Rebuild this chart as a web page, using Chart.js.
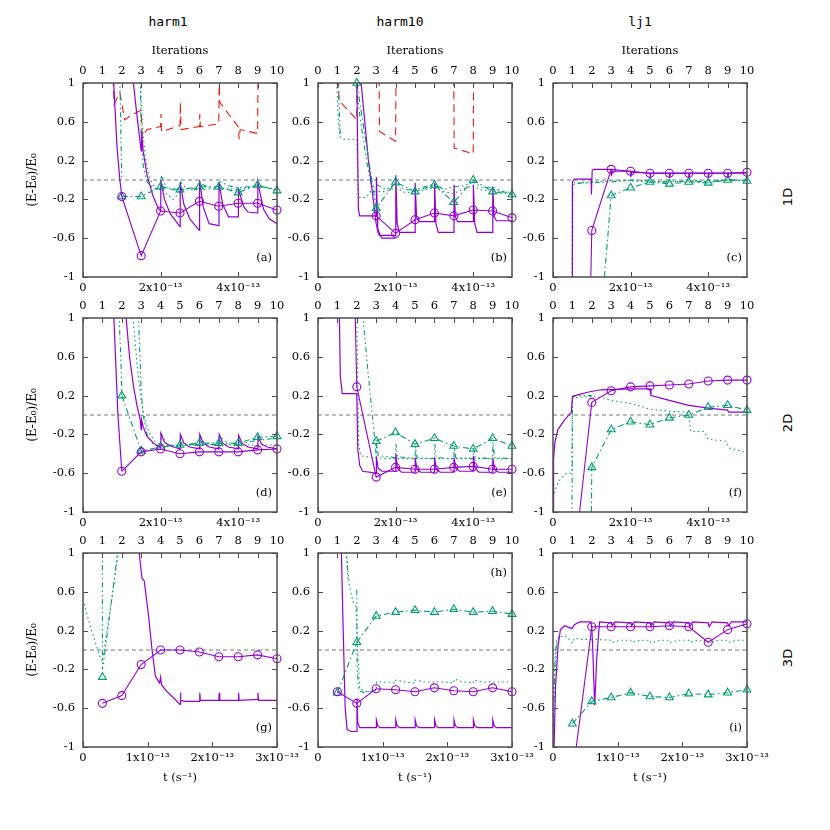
<!DOCTYPE html>
<html lang="en">
<head>
<meta charset="UTF-8">
<title>(E-E0)/E0 vs iterations</title>
<script src="https://cdn.jsdelivr.net/npm/chart.js@4"></script>
<style>
    body { margin: 0; background: #fff; }
    #fig { position: relative; width: 830px; height: 830px; background: #fff; overflow: hidden; }
    #fig canvas { position: absolute; }
    .coltitle {
        position: absolute; top: 14px;
        font-family: 'DejaVu Sans Mono', monospace; font-size: 13px;
        transform: translateX(-50%);
    }
    .rowtitle {
        position: absolute; left: 787px;
        font-family: 'DejaVu Sans', sans-serif; font-size: 13px;
        transform: translate(-50%, -50%) rotate(-90deg);
    }
</style>
</head>
<body>
<div id="fig">
    <div class="coltitle" style="left:168px">harm1</div>
    <div class="coltitle" style="left:400px">harm10</div>
    <div class="coltitle" style="left:640px">lj1</div>
    <div class="rowtitle" style="top:197px">1D</div>
    <div class="rowtitle" style="top:423px">2D</div>
    <div class="rowtitle" style="top:658px">3D</div>
</div>
<script>
// ticks
const iterTicks = [0, 1, 2, 3, 4, 5, 6, 7, 8, 9, 10];
const yTicks = [-1, -0.6, -0.2, 0.2, 0.6, 1];
const timeTicks12 = [0, 2e-13, 4e-13];   // rows 1D and 2D, 0..5e-13
const timeTicks3 = [0, 1e-13, 2e-13, 3e-13]; // row 3D, 0..3e-13
const zeroLine = [[0, 0], [10, 0]];

// series: [iteration, (E-E0)/E0]

// (a) harm1 1D
const aPurple = [[1.57,1.05],[1.75,0.35],[1.9,0.0],[2.0,-0.17],[2.0,null],[2.57,1.05],[2.75,0.72],[2.95,0.38],[3.0,0.3],[3.02,0.5],[3.1,0.3],[3.3,0.05],[3.6,-0.16],[3.85,-0.28],[4.0,-0.32],[4.01,0.0],[4.2,-0.2],[4.5,-0.35],[5.0,-0.48],[5.01,-0.03],[5.2,-0.25],[5.5,-0.4],[6.0,-0.52],[6.01,0.0],[6.2,-0.28],[6.5,-0.45],[7.0,-0.47],[7.01,-0.02],[7.2,-0.25],[7.5,-0.38],[8.0,-0.38],[8.01,-0.1],[8.3,-0.28],[8.5,-0.33],[9.0,-0.34],[9.01,-0.02],[9.3,-0.3],[9.6,-0.4],[10,-0.45]];
const aGreenDot = [[2.95,1.05],[3.05,0.6],[3.2,0.25],[3.4,0.05],[3.6,-0.05],[3.8,-0.1],[4.0,-0.08],[4.3,-0.14],[4.65,-0.2],[5.0,-0.12],[5.2,-0.09],[5.5,-0.1],[6.0,-0.1],[6.5,-0.09],[7.0,-0.1],[7.5,-0.09],[8.0,-0.1],[8.5,-0.08],[9.0,-0.06],[9.5,-0.08],[10,-0.1]];
const aGreenDD = [[1.9,1.05],[1.96,0.4],[2.0,0.0],[2.0,null],[2.95,1.05],[3.0,0.45],[3.1,0.15],[3.3,-0.02],[3.6,-0.08],[4.0,-0.1],[4.02,0.05],[4.3,-0.08],[5.0,-0.12],[5.02,-0.02],[5.3,-0.08],[6.0,-0.1],[6.02,-0.03],[6.5,-0.08],[7.0,-0.08],[7.02,-0.01],[7.5,-0.06],[8.0,-0.08],[8.5,-0.07],[9.0,-0.06],[9.5,-0.08],[10,-0.1]];
const aRed = [[1.55,1.05],[1.6,0.78],[1.9,0.9],[2.15,0.62],[2.5,0.67],[3.0,0.72],[3.05,0.45],[3.3,0.52],[4.0,0.55],[4.02,0.68],[4.05,0.5],[5.0,0.56],[5.02,0.8],[5.05,0.52],[6.0,0.55],[6.02,0.68],[6.05,0.55],[7.0,0.58],[7.02,1.05],[7.05,0.8],[8.0,0.55],[8.05,0.42],[8.1,0.52],[9.0,0.48],[9.02,1.05]];
const aCircles = [[2,-0.17],[3,-0.78],[4,-0.32],[5,-0.34],[6,-0.22],[7,-0.27],[8,-0.24],[9,-0.24],[10,-0.31]];
const aTriangles = [[2,-0.17],[3,-0.17],[4,-0.07],[5,-0.1],[6,-0.07],[7,-0.07],[8,-0.13],[9,-0.05],[10,-0.11]];

// (b) harm10 1D
const bPurple = [[2.0,1.05],[2.08,-0.3],[2.15,-0.37],[3.0,-0.37],[3.01,0.03],[3.08,-0.5],[3.2,-0.57],[4.0,-0.57],[4.01,0.05],[4.08,-0.45],[4.2,-0.54],[5.0,-0.54],[5.01,-0.03],[5.08,-0.38],[5.2,-0.43],[6.0,-0.43],[6.01,-0.03],[6.08,-0.45],[6.2,-0.54],[7.0,-0.54],[7.01,-0.05],[7.08,-0.38],[7.2,-0.43],[8.0,-0.43],[8.01,-0.05],[8.08,-0.45],[8.2,-0.54],[9.0,-0.54],[9.01,-0.07],[9.08,-0.38],[9.2,-0.42],[10,-0.42]];
const bPurple2 = [[2.2,1.05],[2.6,0.2],[3.0,-0.45],[3.1,-0.55],[3.3,-0.6],[4.0,-0.6]];
const bGreenDot = [[0.95,1.05],[1.05,0.6],[1.15,0.44],[1.3,0.42],[2.0,0.42],[2.05,0.0],[2.1,-0.18],[2.5,-0.18],[2.7,-0.12],[3.0,-0.12],[3.5,-0.12],[4.0,-0.08],[4.5,-0.13],[5.0,-0.12],[5.5,-0.1],[6.0,-0.08],[6.5,-0.12],[7.0,-0.14],[7.5,-0.09],[8.0,-0.06],[8.5,-0.11],[9.0,-0.1],[9.5,-0.12],[10,-0.13]];
const bGreenDD = [[1.05,1.05],[1.1,0.7],[1.15,0.45],[1.15,null],[1.9,1.05],[2.2,0.6],[2.5,0.2],[2.75,-0.05],[3.0,-0.1],[3.05,-0.05],[3.5,-0.1],[4.0,-0.04],[4.5,-0.1],[5.0,-0.1],[5.5,-0.07],[6.0,-0.04],[6.5,-0.1],[7.0,-0.07],[7.5,-0.06],[8.0,-0.02],[8.5,-0.08],[9.0,-0.07],[9.5,-0.12],[10,-0.14]];
const bRed = [[1.05,1.05],[1.08,0.82],[2.0,0.62],[2.02,1.05],[2.02,null],[3.15,1.05],[3.17,0.5],[4.0,0.4],[4.02,1.05],[4.02,null],[7.0,1.05],[7.02,0.33],[8.0,0.27],[8.02,1.05]];
const bCircles = [[3,-0.37],[4,-0.55],[5,-0.41],[6,-0.34],[7,-0.37],[8,-0.31],[9,-0.32],[10,-0.39]];
const bTriangles = [[2,1.0],[3,-0.29],[4,-0.02],[5,-0.12],[6,-0.05],[7,-0.23],[8,0.0],[9,-0.12],[10,-0.15]];

// (c) lj1 1D
const cPurple = [[0.98,-1.05],[1.0,-0.02],[1.1,0.01],[1.97,0.01],[1.98,-0.15],[2.02,0.1],[2.1,0.11],[3.0,0.11],[3.01,0.04],[3.05,0.09],[4.0,0.09],[4.01,0.03],[4.05,0.08],[5.0,0.07],[5.01,0.02],[5.05,0.07],[6.0,0.07],[6.01,0.02],[6.05,0.07],[7.0,0.07],[7.01,0.02],[7.05,0.07],[8.0,0.07],[8.01,0.02],[8.05,0.07],[9.0,0.07],[9.01,0.02],[9.05,0.07],[10,0.07]];
const cGreenDot = [[0.98,-1.05],[1.0,-0.05],[1.1,-0.03],[2.0,-0.02],[3.0,-0.01],[4.0,-0.01],[5.0,-0.02],[6.0,-0.02],[7.0,-0.01],[8.0,-0.01],[9.0,0.0],[10,0.0]];
const cGreenDD = [[1.0,-1.05],[1.02,-0.05],[1.5,-0.03],[2.0,-0.03],[3.0,-0.02],[4.0,0.0],[5.0,-0.01],[6.0,-0.02],[7.0,-0.01],[8.0,-0.02],[9.0,0.0],[10,-0.01]];
const cCircles = [[1.95,-1],[2,-0.52],[3,0.11],[4,0.09],[5,0.07],[6,0.07],[7,0.07],[8,0.07],[9,0.07],[10,0.08]];
const cTriangles = [[2.65,-1],[3,-0.16],[4,-0.08],[5,-0.02],[6,-0.04],[7,-0.02],[8,-0.03],[9,0.0],[10,-0.01]];

// (d) harm1 2D
const dPurple = [[1.58,1.05],[1.8,0.0],[2.0,-0.58],[2.0,null],[2.2,1.05],[2.4,0.6],[2.6,0.3],[2.8,0.08],[2.95,-0.05],[3.0,-0.15],[3.02,-0.05],[3.1,-0.12],[3.3,-0.22],[3.64,-0.29],[4.0,-0.34],[4.02,-0.19],[4.2,-0.28],[4.5,-0.32],[5.0,-0.35],[5.02,-0.2],[5.2,-0.29],[5.5,-0.33],[6.0,-0.35],[6.02,-0.2],[6.2,-0.29],[6.5,-0.33],[7.0,-0.35],[7.02,-0.2],[7.2,-0.29],[7.5,-0.33],[8.0,-0.35],[8.02,-0.21],[8.2,-0.29],[8.5,-0.33],[9.0,-0.35],[9.02,-0.22],[9.2,-0.3],[9.5,-0.33],[10,-0.35]];
const dGreenDot = [[2.55,1.05],[2.8,0.5],[3.0,0.15],[3.2,-0.05],[3.4,-0.18],[3.7,-0.27],[4.0,-0.3],[4.5,-0.32],[5.0,-0.32],[5.5,-0.31],[6.0,-0.31],[6.5,-0.31],[7.0,-0.31],[7.5,-0.31],[8.0,-0.31],[8.5,-0.31],[9.0,-0.31],[9.5,-0.31],[10,-0.31]];
const dGreenDD = [[1.85,1.05],[1.95,0.6],[2.0,0.2],[2.0,null],[2.85,1.05],[2.95,0.55],[3.0,0.25],[3.1,0.0],[3.3,-0.2],[3.6,-0.3],[4.0,-0.33],[4.02,-0.19],[4.3,-0.3],[5.0,-0.33],[5.02,-0.22],[5.3,-0.3],[6.0,-0.31],[6.02,-0.22],[6.3,-0.3],[7.0,-0.31],[7.02,-0.22],[7.5,-0.3],[8.0,-0.3],[8.5,-0.28],[9.0,-0.26],[9.5,-0.25],[10,-0.24]];
const dCircles = [[2,-0.58],[3,-0.38],[4,-0.35],[5,-0.4],[6,-0.38],[7,-0.38],[8,-0.38],[9,-0.36],[10,-0.35]];
const dTriangles = [[2,0.2],[3,-0.37],[4,-0.33],[5,-0.31],[6,-0.29],[7,-0.29],[8,-0.29],[9,-0.23],[10,-0.22]];

// (e) harm10 2D
const ePurple = [[1.1,1.05],[1.15,0.4],[1.25,0.22],[2.0,0.22],[2.05,-0.35],[2.15,-0.52],[2.3,-0.58],[3.0,-0.6],[3.01,-0.43],[3.1,-0.55],[3.3,-0.58],[4.0,-0.58],[4.01,-0.4],[4.1,-0.55],[4.3,-0.59],[5.0,-0.59],[5.01,-0.44],[5.1,-0.56],[5.3,-0.59],[6.0,-0.59],[6.01,-0.44],[6.1,-0.56],[6.3,-0.59],[7.0,-0.59],[7.01,-0.44],[7.1,-0.55],[7.3,-0.58],[8.0,-0.58],[8.01,-0.42],[8.1,-0.55],[8.3,-0.59],[9.0,-0.59],[9.01,-0.45],[9.1,-0.56],[9.3,-0.59],[10,-0.59]];
const eGreenDot = [[2.0,1.05],[2.05,0.3],[2.1,-0.3],[2.2,-0.42],[2.5,-0.43],[3.0,-0.44],[3.5,-0.45],[4.0,-0.45],[4.5,-0.45],[5.0,-0.45],[5.5,-0.45],[6.0,-0.45],[6.5,-0.45],[7.0,-0.45],[7.5,-0.45],[8.0,-0.45],[8.5,-0.45],[9.0,-0.45],[9.5,-0.45],[10,-0.45]];
const eGreenDD = [[2.3,1.05],[2.55,0.5],[2.8,0.0],[2.95,-0.3],[3.0,-0.43],[3.02,-0.27],[3.1,-0.42],[4.0,-0.44],[4.02,-0.3],[4.1,-0.43],[5.0,-0.45],[5.02,-0.33],[5.1,-0.44],[6.0,-0.45],[6.02,-0.3],[6.1,-0.44],[7.0,-0.45],[7.02,-0.33],[7.1,-0.44],[8.0,-0.45],[8.02,-0.33],[8.1,-0.44],[9.0,-0.45],[9.02,-0.28],[9.1,-0.44],[10,-0.45]];
const eCircles = [[1.92,1.0],[2,0.29],[3,-0.64],[4,-0.54],[5,-0.56],[6,-0.56],[7,-0.54],[8,-0.53],[9,-0.56],[10,-0.56]];
const eTriangles = [[3,-0.27],[4,-0.18],[5,-0.3],[6,-0.24],[7,-0.32],[8,-0.35],[9,-0.24],[10,-0.32]];

// (f) lj1 2D
const fPurple = [[0.0,-1.05],[0.03,-0.45],[0.1,-0.28],[0.25,-0.15],[0.6,-0.05],[0.95,0.03],[1.0,0.19],[1.3,0.21],[1.9,0.24],[2.5,0.26],[4.0,0.27],[5.0,0.27],[5.05,0.2],[6.0,0.15],[7.0,0.1],[8.0,0.07],[9.0,0.05],[9.05,0.03],[10,0.03]];
const fGreenDot = [[0.0,-0.85],[0.1,-0.78],[0.3,-0.68],[0.7,-0.6],[0.98,-0.6],[1.0,0.17],[1.2,0.18],[2.0,0.19],[2.5,0.18],[3.0,0.15],[4.0,0.12],[4.5,0.09],[5.0,0.06],[6.0,0.04],[6.9,0.03],[7.0,0.0],[7.1,-0.17],[7.8,-0.17],[8.0,-0.25],[8.9,-0.27],[9.1,-0.34],[10,-0.39]];
const fGreenDD = [[0.98,-1.05],[1.0,0.15],[1.05,0.2],[1.5,0.2],[2.0,0.2]];
const fCircles = [[1.37,-1],[2,0.13],[3,0.25],[4,0.29],[5,0.3],[6,0.31],[7,0.32],[8,0.35],[9,0.36],[10,0.36]];
const fTriangles = [[1.98,-1],[2,-0.54],[3,-0.15],[4,-0.07],[5,-0.1],[6,-0.03],[7,0.0],[8,0.08],[9,0.1],[10,0.05]];

// (g) harm1 3D
const gPurple = [[2.87,1.05],[3.04,0.74],[3.16,0.71],[3.38,0.35],[3.56,0.0],[3.73,-0.27],[3.95,-0.34],[4.0,-0.28],[4.05,-0.36],[4.33,-0.43],[4.7,-0.5],[5.0,-0.56],[5.02,-0.44],[5.05,-0.52],[5.3,-0.53],[6.0,-0.53],[6.02,-0.44],[6.05,-0.52],[7.0,-0.52],[7.02,-0.44],[7.05,-0.52],[8.0,-0.52],[8.02,-0.44],[8.05,-0.52],[9.0,-0.51],[9.02,-0.44],[9.05,-0.52],[10,-0.52]];
const gGreenDot = [[0,0.52],[0.3,0.3],[0.6,0.1],[0.85,-0.06],[1.0,-0.12],[1.2,0.15],[1.5,0.55],[1.85,1.05]];
const gGreenDD = [[1.0,1.05],[1.0,-0.2],[1.05,-0.15],[1.3,0.25],[1.6,0.7],[1.8,1.05]];
const gCircles = [[1,-0.55],[2,-0.47],[3,-0.15],[4,0.0],[5,0.0],[6,-0.02],[7,-0.07],[8,-0.07],[9,-0.05],[10,-0.09]];
const gTriangles = [[1,-0.28]];

// (h) harm10 3D
const hPurple = [[1.2,1.05],[1.3,0.2],[1.4,-0.6],[1.5,-0.82],[1.7,-0.84],[2.0,-0.84],[2.01,-0.5],[2.05,-0.75],[2.15,-0.8],[3.0,-0.8],[3.01,-0.72],[3.08,-0.78],[3.2,-0.8],[4.0,-0.8],[4.01,-0.72],[4.08,-0.78],[4.2,-0.8],[5.0,-0.8],[5.01,-0.72],[5.08,-0.78],[5.2,-0.8],[6.0,-0.8],[6.01,-0.72],[6.08,-0.78],[6.2,-0.8],[7.0,-0.8],[7.01,-0.72],[7.08,-0.78],[7.2,-0.8],[8.0,-0.8],[8.01,-0.72],[8.08,-0.78],[8.2,-0.8],[9.0,-0.8],[9.01,-0.72],[9.08,-0.78],[9.2,-0.8],[10,-0.8]];
const hGreenDot = [[1.45,1.05],[1.6,0.68],[1.8,0.5],[1.95,0.45],[2.05,0.0],[2.15,-0.4],[2.5,-0.43],[3.0,-0.42],[3.02,-0.33],[3.5,-0.33],[4.0,-0.34],[4.02,-0.31],[4.5,-0.33],[5.0,-0.34],[5.02,-0.31],[5.5,-0.33],[6.0,-0.33],[6.5,-0.33],[7.0,-0.34],[7.02,-0.3],[7.5,-0.33],[8.0,-0.34],[8.02,-0.31],[8.5,-0.33],[9.0,-0.33],[9.5,-0.33],[10,-0.33]];
const hGreenDD = [[1.45,1.05],[1.55,0.72],[1.55,null],[2.0,0.62],[2.02,-0.2],[2.1,-0.42],[2.4,-0.44],[2.8,-0.42]];
const hCircles = [[1,-0.43],[2,-0.55],[3,-0.4],[4,-0.41],[5,-0.43],[6,-0.39],[7,-0.42],[8,-0.43],[9,-0.39],[10,-0.43]];
const hTriangles = [[1,-0.44],[2,0.08],[3,0.35],[4,0.39],[5,0.41],[6,0.39],[7,0.42],[8,0.39],[9,0.4],[10,0.37]];

// (i) lj1 3D
const iPurple = [[0.05,-1.05],[0.13,-0.38],[0.26,0.04],[0.38,0.21],[0.6,0.25],[0.98,0.22],[1.1,0.26],[1.37,0.29],[1.95,0.29],[2.0,0.22],[2.05,0.0],[2.1,-0.3],[2.15,-0.57],[2.25,-0.1],[2.4,0.29],[3.0,0.28],[3.05,0.25],[3.2,0.29],[4.0,0.28],[4.05,0.25],[4.2,0.29],[5.0,0.28],[5.05,0.25],[5.2,0.29],[6.0,0.28],[6.05,0.25],[6.2,0.29],[7.0,0.28],[7.05,0.24],[7.2,0.29],[8.0,0.28],[8.05,0.24],[8.2,0.29],[9.0,0.28],[9.05,0.25],[9.2,0.29],[10,0.29]];
const iGreenDot = [[0.0,-1.05],[0.08,-0.3],[0.18,0.05],[0.3,0.13],[0.6,0.15],[0.9,0.1],[1.0,0.07],[1.1,0.12],[1.5,0.11],[2.0,0.11],[2.05,0.08],[2.2,0.11],[3.0,0.1],[3.05,0.08],[3.5,0.1],[4.0,0.1],[4.05,0.08],[4.5,0.1],[5.0,0.1],[5.05,0.07],[5.5,0.1],[6.0,0.1],[6.05,0.08],[6.5,0.1],[7.0,0.1],[7.05,0.08],[7.5,0.1],[8.0,0.1],[8.05,0.08],[8.5,0.1],[9.0,0.1],[9.05,0.08],[9.5,0.1],[10,0.1]];
const iGreenDD = [[0.0,-1.05],[0.03,-0.6],[0.1,-0.1],[0.2,0.12],[0.4,0.15]];
const iCircles = [[1.2,-1],[2,0.24],[3,0.24],[4,0.24],[5,0.24],[6,0.25],[7,0.24],[8,0.08],[9,0.21],[10,0.27]];
const iTriangles = [[1,-0.76],[2,-0.53],[3,-0.49],[4,-0.44],[5,-0.48],[6,-0.49],[7,-0.45],[8,-0.46],[9,-0.44],[10,-0.41]];

const PURPLE = '#9400D3';
const GREEN = '#009E73';
const RED = '#E51E10';

const PLOT_LEFT = [83, 318, 553];
const PLOT_TOP = [83, 318, 553];
const PLOT = 194;
const PAD_L = 80, PAD_T = 65, PAD_R = 30, PAD_B = 50;
const SERIF = 'DejaVu Serif';

const panels = [
    { letter: '(a)', col: 0, row: 0, purple: [aPurple], dot: aGreenDot, dd: aGreenDD, red: aRed, circles: aCircles, triangles: aTriangles },
    { letter: '(b)', col: 1, row: 0, purple: [bPurple, bPurple2], dot: bGreenDot, dd: bGreenDD, red: bRed, circles: bCircles, triangles: bTriangles },
    { letter: '(c)', col: 2, row: 0, purple: [cPurple], dot: cGreenDot, dd: cGreenDD, circles: cCircles, triangles: cTriangles },
    { letter: '(d)', col: 0, row: 1, purple: [dPurple], dot: dGreenDot, dd: dGreenDD, circles: dCircles, triangles: dTriangles },
    { letter: '(e)', col: 1, row: 1, purple: [ePurple], dot: eGreenDot, dd: eGreenDD, circles: eCircles, triangles: eTriangles },
    { letter: '(f)', col: 2, row: 1, purple: [fPurple], dot: fGreenDot, dd: fGreenDD, circles: fCircles, triangles: fTriangles },
    { letter: '(g)', col: 0, row: 2, purple: [gPurple], dot: gGreenDot, dd: gGreenDD, circles: gCircles, triangles: gTriangles },
    { letter: '(h)', col: 1, row: 2, purple: [hPurple], dot: hGreenDot, dd: hGreenDD, circles: hCircles, triangles: hTriangles, letterTop: true },
    { letter: '(i)', col: 2, row: 2, purple: [iPurple], dot: iGreenDot, dd: iGreenDD, circles: iCircles, triangles: iTriangles }
];

function fmtTime(v) {
    const n = Math.round(v * 1e13);
    return n === 0 ? '0' : n + 'x10\u207B\u00B9\u00B3';
}

function fmtY(v) {
    const r = Math.round(v * 10) / 10;
    return Math.abs(r) === 1 ? String(r) : r.toFixed(1);
}

function trace(data, color, dash, width) {
    return {
        data: data, borderColor: color, borderWidth: width || 1.1, borderDash: dash || [],
        pointRadius: 0, fill: false, tension: 0, spanGaps: false, xAxisID: 'x', yAxisID: 'y'
    };
}

function markers(data, color, style, size, dash) {
    return {
        data: data, borderColor: color, borderWidth: 1.1, borderDash: dash || [],
        pointStyle: style,
        pointRadius: c => (c.raw && Number.isInteger(c.raw[0]) ? size : 0),
        pointBorderColor: color, pointBackgroundColor: 'rgba(0,0,0,0)', pointBorderWidth: 1.1,
        fill: false, tension: 0, clip: false, xAxisID: 'x', yAxisID: 'y'
    };
}

// border, inside ticks and panel letter, gnuplot style
const framePlugin = {
    id: 'frame',
    afterDatasetsDraw(chart, args, opts) {
        const { ctx, chartArea: a, scales } = chart;
        ctx.save();
        ctx.strokeStyle = '#4d4d4d';
        ctx.lineWidth = 1;
        ctx.beginPath();
        scales.x.ticks.forEach(t => {
            const px = Math.round(scales.x.getPixelForValue(t.value)) + 0.5;
            ctx.moveTo(px, a.top); ctx.lineTo(px, a.top + 5);
        });
        scales.t.ticks.forEach(t => {
            const px = Math.round(scales.t.getPixelForValue(t.value)) + 0.5;
            ctx.moveTo(px, a.bottom); ctx.lineTo(px, a.bottom - 5);
        });
        scales.y.ticks.forEach(t => {
            const py = Math.round(scales.y.getPixelForValue(t.value)) + 0.5;
            ctx.moveTo(a.left, py); ctx.lineTo(a.left + 5, py);
            ctx.moveTo(a.right, py); ctx.lineTo(a.right - 5, py);
        });
        ctx.stroke();
        ctx.lineWidth = 1.5;
        ctx.strokeRect(a.left, a.top, a.right - a.left, a.bottom - a.top);
        ctx.fillStyle = '#000';
        ctx.font = '11.5px "' + SERIF + '"';
        ctx.textAlign = 'right';
        ctx.textBaseline = 'middle';
        ctx.fillText(opts.letter, a.right - 5, opts.letterTop ? a.top + 20 : a.bottom - 19);
        ctx.restore();
    }
};

function makeChart(p) {
    const canvas = document.createElement('canvas');
    canvas.width = PAD_L + PLOT + PAD_R;
    canvas.height = PAD_T + PLOT + PAD_B;
    canvas.style.left = (PLOT_LEFT[p.col] - PAD_L) + 'px';
    canvas.style.top = (PLOT_TOP[p.row] - PAD_T) + 'px';
    document.getElementById('fig').appendChild(canvas);

    const datasets = [
        markers(p.circles, PURPLE, 'circle', 4),
        markers(p.triangles, GREEN, 'triangle', 4.5, [6, 3, 1.5, 3])
    ];
    p.purple.forEach(s => datasets.push(trace(s, PURPLE, [], 1.2)));
    datasets.push(trace(p.dot, GREEN, [1.5, 3]));
    datasets.push(trace(p.dd, GREEN, [5, 3, 1.5, 3, 1.5, 3]));
    if (p.red) datasets.push(trace(p.red, RED, [8, 5]));
    datasets.push(trace(zeroLine, '#777', [4, 3], 1));

    const tickFont = { family: SERIF, size: 11.5 };
    const bottomTicks = p.row === 2 ? timeTicks3 : timeTicks12;

    new Chart(canvas.getContext('2d'), {
        type: 'line',
        data: { datasets: datasets },
        options: {
            responsive: false,
            animation: false,
            events: [],
            layout: { padding: { left: 0, top: 0, right: PAD_R, bottom: 0 } },
            plugins: {
                legend: { display: false },
                tooltip: { enabled: false },
                frame: { letter: p.letter, letterTop: !!p.letterTop }
            },
            scales: {
                x: {
                    type: 'linear', position: 'top', min: 0, max: 10,
                    afterBuildTicks: s => { s.ticks = iterTicks.map(v => ({ value: v })); },
                    afterFit: s => { s.height = PAD_T; },
                    grid: { display: false, drawTicks: false },
                    border: { display: false },
                    ticks: { color: '#000', font: tickFont, padding: 5, autoSkip: false, maxRotation: 0 },
                    title: { display: p.row === 0, text: 'Iterations', color: '#000', font: tickFont, padding: { top: 26 } }
                },
                t: {
                    type: 'linear', position: 'bottom', display: true,
                    min: 0, max: p.row === 2 ? 3e-13 : 5e-13,
                    afterBuildTicks: s => { s.ticks = bottomTicks.map(v => ({ value: v })); },
                    afterFit: s => { s.height = PAD_B; },
                    grid: { display: false, drawTicks: false },
                    border: { display: false },
                    ticks: { color: '#000', font: tickFont, padding: 4, autoSkip: false, maxRotation: 0, callback: v => fmtTime(v) },
                    title: { display: p.row === 2, text: 't (s\u207B\u00B9)', color: '#000', font: tickFont, padding: { bottom: 12 } }
                },
                y: {
                    type: 'linear', position: 'left', min: -1, max: 1,
                    afterBuildTicks: s => { s.ticks = yTicks.map(v => ({ value: v })); },
                    afterFit: s => { s.width = PAD_L; },
                    grid: { display: false, drawTicks: false },
                    border: { display: false },
                    ticks: { color: '#000', font: tickFont, padding: 8, callback: v => fmtY(v) },
                    title: { display: p.col === 0, text: '(E-E\u2080)/E\u2080', color: '#000', font: { family: SERIF, size: 12 }, padding: { top: 23 } }
                }
            }
        },
        plugins: [framePlugin]
    });
}

panels.forEach(makeChart);
</script>
</body>
</html>
